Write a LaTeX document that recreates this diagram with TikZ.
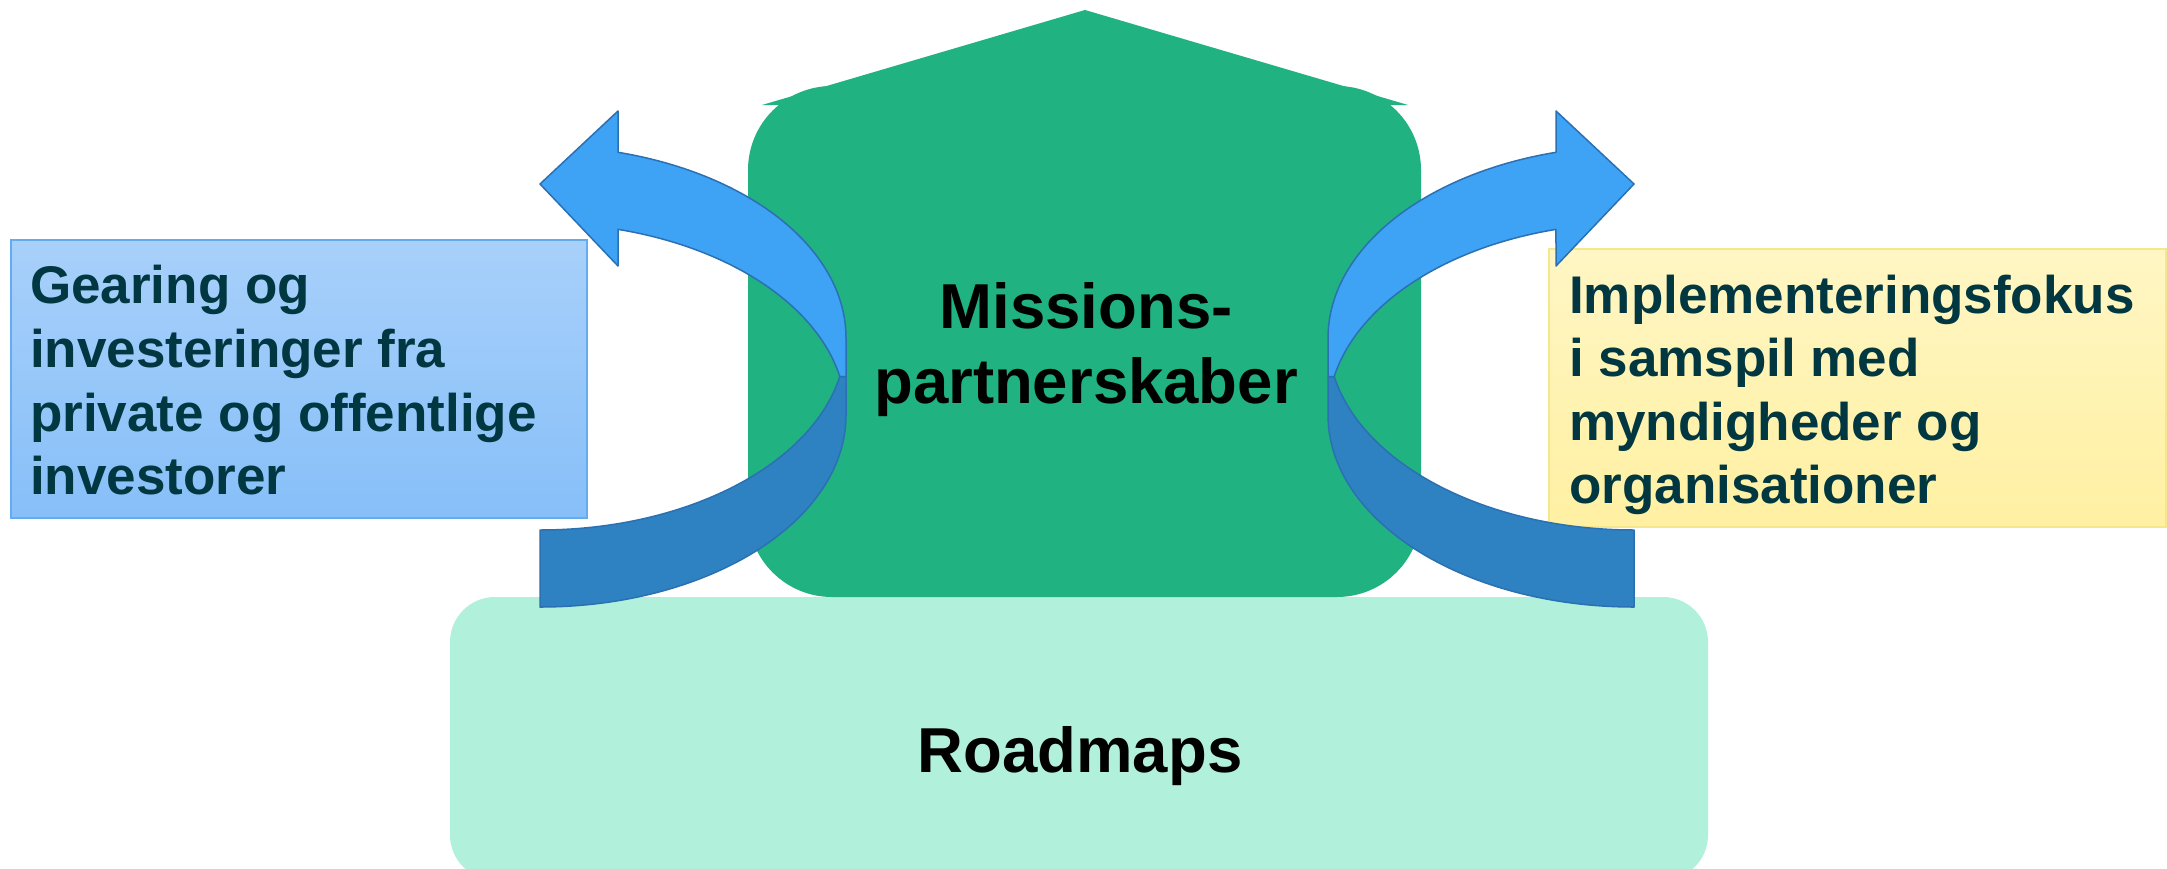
\documentclass[tikz,border=0pt]{standalone}
\usepackage{fontspec}
\setmainfont{Liberation Sans}
\begin{document}
\begin{tikzpicture}[x=1pt,y=-1pt]
\definecolor{house}{RGB}{33,178,129}
\definecolor{mint}{RGB}{177,240,219}
\definecolor{bluetop}{RGB}{168,208,250}
\definecolor{bluebot}{RGB}{135,191,249}
\definecolor{blueline}{RGB}{100,172,240}
\definecolor{yellowtop}{RGB}{255,246,196}
\definecolor{yellowbot}{RGB}{255,240,162}
\definecolor{yellowline}{RGB}{246,230,140}
\definecolor{boxink}{RGB}{0,55,65}
\definecolor{ribbonfront}{RGB}{62,163,245}
\definecolor{ribbonback}{RGB}{46,130,194}
\definecolor{ribbonedge}{RGB}{43,112,178}
\tikzset{
  boxtext/.style={anchor=base west, inner sep=0pt,
    font=\fontsize{53}{64}\selectfont\bfseries, text=boxink},
  maintext/.style={anchor=base, inner sep=0pt,
    font=\fontsize{63.5}{75}\selectfont\bfseries, text=black},
  ribbonlight/.style={fill=ribbonfront, draw=ribbonedge, line width=1.5pt, line join=round},
  ribbondark/.style={fill=ribbonback, draw=ribbonedge, line width=1.5pt, line join=round},
}
% curved two-tone ribbon arrow: tail at lower left, head pointing left at top
\newcommand\ribbonarrow{%
  \path[ribbondark] (540,530) -- (540,607)
    arc[start angle=-90, end angle=0, x radius=306pt, y radius=192pt]
    -- (846,376.5) -- (839.8,376.5)
    arc[start angle=-11.57, end angle=-90, x radius=306pt, y radius=192pt]
    -- cycle;
  \path[ribbonlight] (540,184) -- (618,111) -- (618,152.3)
    arc[start angle=75.23, end angle=0, x radius=306pt, y radius=192pt]
    -- (846,376.5) -- (839.8,376.5)
    arc[start angle=11.57, end angle=75.23, x radius=306pt, y radius=192pt]
    -- (618,266) -- cycle;
}

\clip (0,0) rectangle (2167,868);
\fill[white] (0,0) rectangle (2167,868);

% base layer
\fill[mint, rounded corners=45pt] (450,597) rectangle (1708,880);
\node (roadmaps) [maintext] at (1080,772) {Roadmaps};

% house with roof
\fill[house, rounded corners=84pt] (748,86) rectangle (1421,597);
\fill[house] (1085,10) -- (1408,105) -- (762,105) -- cycle;
\node (missions1) [maintext] at (1086,328) {Missions-};
\node (missions2) [maintext] at (1086,403) {partnerskaber};

% side boxes
\shade[top color=bluetop, bottom color=bluebot] (11,240) rectangle (587,518);
\draw[blueline, line width=1.5pt] (11,240) rectangle (587,518);
\node (gear1) [boxtext] at (30,303) {Gearing og};
\node (gear2) [boxtext] at (30,367) {investeringer fra};
\node (gear3) [boxtext] at (30,431) {private og offentlige};
\node (gear4) [boxtext] at (30,494) {investorer};

\shade[top color=yellowtop, bottom color=yellowbot] (1549,249) rectangle (2166,527);
\draw[yellowline, line width=1.5pt] (1549,249) rectangle (2166,527);
\node (impl1) [boxtext] at (1569,313) {Implementeringsfokus};
\node (impl2) [boxtext] at (1569,376) {i samspil med};
\node (impl3) [boxtext] at (1569,440) {myndigheder og};
\node (impl4) [boxtext] at (1569,503) {organisationer};

% ribbon arrows
\ribbonarrow
\begin{scope}[shift={(2174,0)}, xscale=-1]
  \ribbonarrow
\end{scope}
\end{tikzpicture}
\end{document}
